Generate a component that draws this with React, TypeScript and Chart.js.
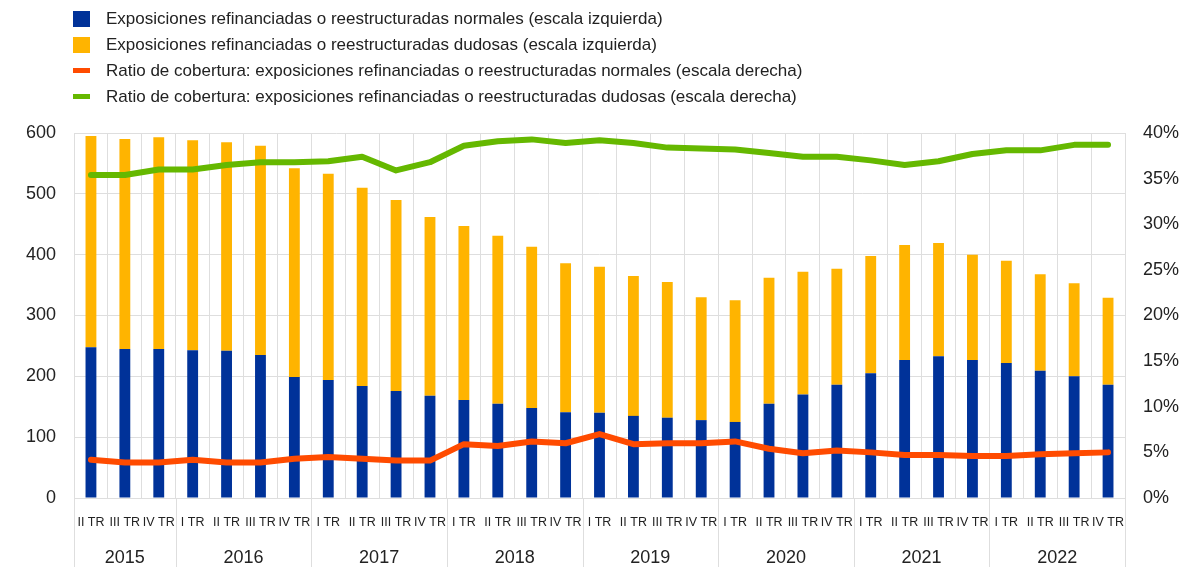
import React, { useEffect, useRef } from "react";
import { Chart, registerables } from "chart.js";

Chart.register(...registerables);

const years = ["2015", "2016", "2017", "2018", "2019", "2020", "2021", "2022"];
const quartersPerYear = [3, 4, 4, 4, 4, 4, 4, 4];
const quarterLabels = [
  "II TR", "III TR", "IV TR",
  "I TR", "II TR", "III TR", "IV TR",
  "I TR", "II TR", "III TR", "IV TR",
  "I TR", "II TR", "III TR", "IV TR",
  "I TR", "II TR", "III TR", "IV TR",
  "I TR", "II TR", "III TR", "IV TR",
  "I TR", "II TR", "III TR", "IV TR",
  "I TR", "II TR", "III TR", "IV TR",
];

const normales = [248, 245, 245, 243, 242, 235, 199, 194, 184, 176, 168, 161, 155, 148, 141, 140, 135, 132, 128, 125, 155, 170, 186, 205, 227, 233, 227, 222, 209, 200, 186];
const dudosas = [347, 345, 348, 345, 343, 344, 343, 339, 326, 314, 294, 286, 276, 265, 245, 240, 230, 223, 202, 200, 207, 202, 191, 193, 189, 186, 173, 168, 159, 153, 143];
const ratioNormales = [4.2, 3.9, 3.9, 4.2, 3.9, 3.9, 4.3, 4.5, 4.3, 4.1, 4.1, 5.9, 5.7, 6.2, 6.0, 7.0, 5.9, 6.0, 6.0, 6.2, 5.4, 4.9, 5.2, 5.0, 4.7, 4.7, 4.6, 4.6, 4.8, 4.9, 5.0];
const ratioDudosas = [35.4, 35.4, 36.0, 36.0, 36.5, 36.8, 36.8, 36.9, 37.4, 35.9, 36.8, 38.6, 39.1, 39.3, 38.9, 39.2, 38.9, 38.4, 38.3, 38.2, 37.8, 37.4, 37.4, 37.0, 36.5, 36.9, 37.7, 38.1, 38.1, 38.7, 38.7];

const seriesNames = [
  "Exposiciones refinanciadas o reestructuradas normales (escala izquierda)",
  "Exposiciones refinanciadas o reestructuradas dudosas (escala izquierda)",
  "Ratio de cobertura: exposiciones refinanciadas o reestructuradas normales (escala derecha)",
  "Ratio de cobertura: exposiciones refinanciadas o reestructuradas dudosas (escala derecha)",
];

const BLUE = "#003299";
const YELLOW = "#FFB400";
const ORANGE = "#FF4B00";
const GREEN = "#65B800";
const GRID = "#dedede";
const TEXT = "#222";
const FONT = "'Liberation Sans', Arial, sans-serif";

const yearPlugin = {
  id: "yearPlugin",
  afterDraw(chart: any) {
    const x = chart.scales.x;
    const area = chart.chartArea;
    const ctx = chart.ctx;
    const half = (x.getPixelForValue(1) - x.getPixelForValue(0)) / 2;
    ctx.save();
    ctx.strokeStyle = GRID;
    ctx.lineWidth = 1;
    ctx.fillStyle = TEXT;
    ctx.font = "18px " + FONT;
    ctx.textAlign = "center";
    ctx.textBaseline = "middle";
    let idx = 0;
    years.forEach((yr, i) => {
      const n = quartersPerYear[i];
      const left = x.getPixelForValue(idx) - half;
      const right = x.getPixelForValue(idx + n - 1) + half;
      ctx.beginPath();
      ctx.moveTo(Math.round(left) + 0.5, area.bottom);
      ctx.lineTo(Math.round(left) + 0.5, chart.height);
      ctx.stroke();
      if (i === years.length - 1) {
        ctx.beginPath();
        ctx.moveTo(Math.round(right) + 0.5, area.bottom);
        ctx.lineTo(Math.round(right) + 0.5, chart.height);
        ctx.stroke();
      }
      ctx.fillText(yr, (left + right) / 2, 558);
      idx += n;
    });
    ctx.restore();
  },
};

export default function App() {
  const ref = useRef<HTMLCanvasElement | null>(null);

  useEffect(() => {
    document.body.style.margin = "0";
    const canvas = ref.current;
    if (!canvas) return;
    const chart = new Chart(canvas, {
      type: "bar",
      data: {
        labels: quarterLabels,
        datasets: [
          {
            type: "line",
            label: seriesNames[2],
            data: ratioNormales,
            yAxisID: "y1",
            borderColor: ORANGE,
            backgroundColor: ORANGE,
            borderWidth: 6,
            pointRadius: 0,
            tension: 0,
            borderCapStyle: "round",
            borderJoinStyle: "round",
            order: 1,
          } as any,
          {
            type: "line",
            label: seriesNames[3],
            data: ratioDudosas,
            yAxisID: "y1",
            borderColor: GREEN,
            backgroundColor: GREEN,
            borderWidth: 6,
            pointRadius: 0,
            tension: 0,
            borderCapStyle: "round",
            borderJoinStyle: "round",
            order: 1,
          } as any,
          {
            type: "bar",
            label: seriesNames[0],
            data: normales,
            yAxisID: "y",
            backgroundColor: BLUE,
            barPercentage: 0.32,
            categoryPercentage: 1,
            order: 2,
          },
          {
            type: "bar",
            label: seriesNames[1],
            data: dudosas,
            yAxisID: "y",
            backgroundColor: YELLOW,
            barPercentage: 0.32,
            categoryPercentage: 1,
            order: 2,
          },
        ],
      },
      options: {
        animation: false,
        responsive: false,
        maintainAspectRatio: false,
        layout: { padding: { top: 133, left: 0, right: 0, bottom: 0 } },
        plugins: {
          legend: { display: false },
          tooltip: { enabled: false },
        },
        scales: {
          x: {
            stacked: true,
            afterFit: (s: any) => { s.height = 69; },
            grid: { color: GRID, offset: true, drawTicks: false },
            border: { color: GRID },
            ticks: {
              autoSkip: false,
              maxRotation: 0,
              minRotation: 0,
              padding: 17,
              color: TEXT,
              font: { family: FONT, size: 12.5 },
            },
          },
          y: {
            stacked: true,
            position: "left",
            min: 0,
            max: 600,
            afterFit: (s: any) => { s.width = 74; },
            grid: { color: GRID, drawTicks: false },
            border: { display: false },
            ticks: {
              stepSize: 100,
              padding: 18,
              color: TEXT,
              font: { family: FONT, size: 18 },
            },
          },
          y1: {
            position: "right",
            min: 0,
            max: 40,
            afterFit: (s: any) => { s.width = 60; },
            grid: { drawOnChartArea: false, drawTicks: false },
            border: { display: false },
            ticks: {
              stepSize: 5,
              padding: 18,
              color: TEXT,
              font: { family: FONT, size: 18 },
              callback: (v: any) => v + "%",
            },
          },
        },
      },
      plugins: [yearPlugin],
    });
    return () => chart.destroy();
  }, []);

  const legendColors = [BLUE, YELLOW, ORANGE, GREEN];

  return (
    <div style={{ position: "relative", width: 1185, height: 567, background: "#fff" }}>
      <canvas ref={ref} width={1185} height={567} style={{ position: "absolute", left: 0, top: 0 }} />
      {seriesNames.map((name, i) => (
        <div
          key={i}
          style={{
            position: "absolute",
            left: 73,
            top: 8 + i * 26,
            height: 21,
            display: "flex",
            alignItems: "center",
            fontFamily: FONT,
            fontSize: 17,
            color: TEXT,
            whiteSpace: "nowrap",
          }}
        >
          <span
            style={{
              display: "inline-block",
              width: 17,
              height: i < 2 ? 16 : 5,
              background: legendColors[i],
              marginRight: 16,
            }}
          />
          <span>{name}</span>
        </div>
      ))}
    </div>
  );
}
